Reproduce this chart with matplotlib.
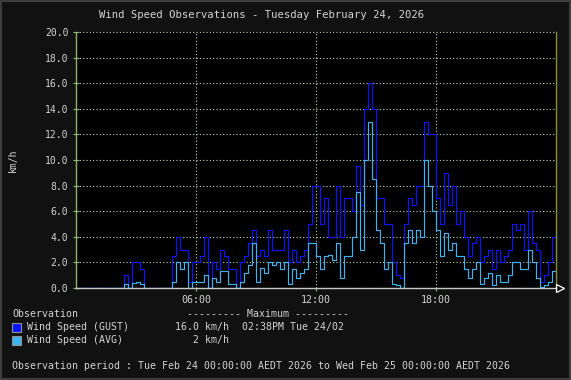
import matplotlib
matplotlib.use("Agg")
import matplotlib.pyplot as plt
import numpy as np
from matplotlib.patches import Rectangle

# 12-minute samples across the day (120 per series), km/h
gust = [0, 0, 0, 0, 0, 0, 0, 0, 0, 0, 0, 0, 1.0, 0, 2.0, 2.0, 1.5, 0, 0, 0,
        0, 0, 0, 0, 2.5, 4.0, 3.0, 3.0, 0.5, 2.0,
        2.0, 2.5, 4.0, 0, 2.0, 1.5, 3.0, 2.5, 1.5, 1.5, 0, 2.0, 2.5, 3.5, 4.5,
        2.5, 3.0, 2.5, 4.5, 3.0, 3.0, 3.0, 4.5, 2.0, 3.0, 2.0, 2.5, 3.0, 5.0, 8.0,
        8.0, 5.0, 7.0, 4.0, 4.0, 8.0, 4.0, 7.0, 7.0, 6.0, 9.5, 6.5, 14.0, 16.0,
        14.0, 7.0, 7.0, 5.0, 5.0, 2.0, 1.0, 0.8, 5.0, 7.0, 6.5, 8.0, 8.0, 13.0,
        12.0, 12.0,
        7.0, 5.0, 9.0, 6.5, 8.0, 5.0, 6.0, 4.0, 2.5, 3.5, 4.0, 2.0, 2.5, 3.0,
        1.5, 3.0, 2.0, 2.5, 3.0, 5.0, 4.5, 5.0, 3.0, 6.0, 3.5, 3.0, 0.5, 1.0,
        2.0, 4.0]
avg = [0, 0, 0, 0, 0, 0, 0, 0, 0, 0, 0, 0, 0.3, 0, 0.4, 0.5, 0.3, 0, 0, 0,
       0, 0, 0, 0, 0.5, 2.0, 1.5, 2.0, 0, 0.5,
       0.5, 0.5, 1.0, 0, 0.8, 0.5, 1.3, 1.3, 0.3, 0.3, 0, 0.5, 1.2, 1.8, 3.5,
       0.5, 1.6, 1.2, 2.0, 1.8, 2.0, 1.5, 2.0, 0.3, 1.5, 0.8, 1.2, 1.5, 3.5, 3.5,
       2.5, 1.5, 2.5, 2.6, 2.2, 3.5, 0.8, 2.5, 2.5, 4.0, 7.5, 3.0, 10.0, 13.0,
       8.5, 4.5, 3.5, 1.5, 2.0, 0.3, 0.2, 0, 3.5, 4.5, 3.5, 4.5, 4.0, 10.0,
       8.0, 6.0,
       4.5, 2.5, 4.3, 3.0, 3.5, 2.5, 2.5, 1.5, 0.8, 1.5, 2.0, 0.3, 0.8, 1.2,
       0.2, 1.0, 0.5, 0.5, 1.0, 2.0, 2.0, 1.5, 1.5, 3.0, 2.0, 0.8, 0.1, 0.2,
       0.5, 1.3]
hours = np.arange(len(gust)) * 0.2
xticks = [6, 12, 18]
xlabels = ["06:00", "12:00", "18:00"]

mono = "DejaVu Sans Mono"
txt = "#d4d4d4"
gust_col = "#0a14ff"
avg_col = "#3cb4f4"
grid_col = "#bcdcac"

fig = plt.figure(figsize=(5.71, 3.80), dpi=100, facecolor="#111111")
fig.patches.append(Rectangle((0, 0), 1, 1, transform=fig.transFigure,
                             fill=False, edgecolor="#3c3c3c", lw=3))

ax = fig.add_axes([76 / 571, 92 / 380, 480 / 571, 256 / 380], facecolor="black")
x = np.append(hours, 24)
ax.step(x, np.append(gust, gust[-1]), where="post", color=gust_col, lw=0.85)
ax.step(x, np.append(avg, avg[-1]), where="post", color=avg_col, lw=0.85)

ax.set_xlim(0, 24)
ax.set_ylim(0, 20)
ax.set_yticks(np.arange(0, 21, 2))
ax.set_yticklabels(["%.1f" % v for v in np.arange(0, 21, 2)])
ax.set_xticks(xticks)
ax.set_xticklabels(xlabels)
ax.grid(True, color=grid_col, linestyle=(0, (1, 2)), lw=0.8)
ax.tick_params(axis="y", direction="inout", length=5, color="#80c070",
               labelcolor=txt, labelsize=7, pad=3)
ax.tick_params(axis="x", direction="out", length=2, color="#80c070",
               labelcolor=txt, labelsize=7.2, pad=3)
for lab in ax.get_xticklabels() + ax.get_yticklabels():
    lab.set_family(mono)
ax.spines["top"].set_visible(False)
ax.spines["left"].set_color("#9ab070")
ax.spines["bottom"].set_color("#c8c8c8")
ax.spines["right"].set_color("#8c8c40")
for s in ax.spines.values():
    s.set_linewidth(1.0)

# arrow at end of time axis
fig.add_artist(plt.Line2D([560 / 571], [92 / 380], marker=">", markersize=6,
                          markerfacecolor="none", markeredgecolor="white",
                          markeredgewidth=0.9, transform=fig.transFigure))

fig.text(262 / 571, 1 - 15 / 380, "Wind Speed Observations - Tuesday February 24, 2026",
         ha="center", va="center", color=txt, family=mono, fontsize=7.6)
fig.text(13 / 571, 1 - 160 / 380, "km/h", rotation=90, ha="center", va="center",
         color=txt, family=mono, fontsize=7)

fs = 7.1
fig.text(12 / 571, 1 - 314 / 380, "Observation", color=txt, family=mono,
         fontsize=fs, va="center")
fig.text(187 / 571, 1 - 314 / 380, "--------- Maximum ---------", color=txt,
         family=mono, fontsize=fs, va="center")
rows = [("Wind Speed (GUST)", gust_col, "16.0 km/h", "02:38PM Tue 24/02"),
        ("Wind Speed (AVG)", avg_col, "2 km/h", "")]
for k, (name, col, mx, when) in enumerate(rows):
    yc = 327 + 13 * k
    fig.patches.append(Rectangle((12 / 571, 1 - (yc + 5) / 380), 9 / 571, 9 / 380,
                                 transform=fig.transFigure, facecolor=col,
                                 edgecolor="#909090", lw=0.8))
    fig.text(27 / 571, 1 - yc / 380, name, color=txt, family=mono,
             fontsize=fs, va="center")
    fig.text(229 / 571, 1 - yc / 380, mx, color=txt, family=mono,
             fontsize=fs, va="center", ha="right")
    if when:
        fig.text(242 / 571, 1 - yc / 380, when, color=txt, family=mono,
                 fontsize=fs, va="center")
fig.text(12 / 571, 1 - 366 / 380,
         "Observation period : Tue Feb 24 00:00:00 AEDT 2026 to Wed Feb 25 00:00:00 AEDT 2026",
         color=txt, family=mono, fontsize=fs, va="center")

fig.savefig("out.png", dpi=100, facecolor=fig.get_facecolor())
